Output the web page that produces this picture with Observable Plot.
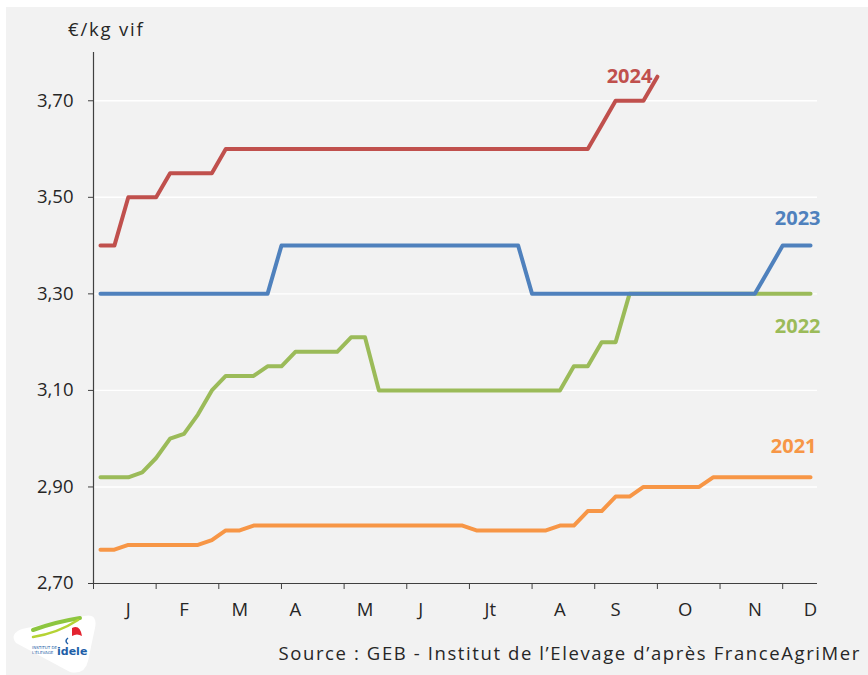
<!DOCTYPE html>
<html>
<head>
<meta charset="utf-8">
<script src="https://cdn.jsdelivr.net/npm/d3@7"></script>
<script src="https://cdn.jsdelivr.net/npm/@observablehq/plot@0.6"></script>
<style>
  html, body { margin: 0; padding: 0; background: #ffffff; }
  #wrap { position: relative; width: 868px; height: 675px; overflow: hidden; font-family: "Open Sans", sans-serif; color: #262626; }
  #bg { position: absolute; left: 6px; top: 7px; right: 0; bottom: 0; background: #f2f2f2; }
  #chart { position: absolute; left: 0; top: 0; }
  #unit { position: absolute; left: 68px; top: 17px; font-size: 18.5px; line-height: 24px; letter-spacing: 1.8px; }
  #source { position: absolute; right: 7px; top: 641px; font-size: 18.5px; line-height: 24px; white-space: nowrap; letter-spacing: 1.6px; }
  #logo { position: absolute; left: 0; top: 600px; }
</style>
</head>
<body>
<div id="wrap">
  <div id="bg"></div>
  <div id="chart"></div>
  <div id="unit">€/kg vif</div>
  <div id="source">Source : GEB - Institut de l’Elevage d’après FranceAgriMer</div>
  <svg id="logo" width="110" height="75" viewBox="0 600 110 75">
    <path d="M16,643 Q9,634 22,629 L84,616 Q98,613 95,628 L88,661 Q85,675 70,672 Z" fill="#ffffff"/>
    <path d="M33,630 Q55,622 80,618" stroke="#8dc63f" stroke-width="4" fill="none" stroke-linecap="round"/>
    <path d="M33,637 Q58,633 78,620" stroke="#b5d334" stroke-width="2.5" fill="none" stroke-linecap="round"/>
    <path d="M72,628 Q80,624 82,636 Q77,633 72,636 Z" fill="#e3232f"/>
    <path d="M68,638 Q64,641 68,644" stroke="#1f5fa8" stroke-width="1.5" fill="none"/>
    <text x="32" y="649" font-size="4" font-family="DejaVu Sans" fill="#1f5fa8">INSTITUT DE</text>
    <text x="32" y="654" font-size="4" font-family="DejaVu Sans" fill="#1f5fa8">L'ÉLEVAGE</text>
    <text x="57" y="655" font-size="11" font-weight="bold" font-family="DejaVu Sans" fill="#1f5fa8">idele</text>
  </svg>
</div>
<script>
// ---- data ----
const weeks = d3.range(1, 53);
const years = [2021, 2022, 2023, 2024];
const yearColors = ["#f79646", "#9bbb59", "#4f81bd", "#c0504d"];

const price2021 = [2.77, 2.77, 2.78, 2.78, 2.78, 2.78, 2.78, 2.78, 2.79, 2.81,
  2.81, 2.82, 2.82, 2.82, 2.82, 2.82, 2.82, 2.82, 2.82, 2.82,
  2.82, 2.82, 2.82, 2.82, 2.82, 2.82, 2.82, 2.81, 2.81, 2.81,
  2.81, 2.81, 2.81, 2.82, 2.82, 2.85, 2.85, 2.88, 2.88, 2.90,
  2.90, 2.90, 2.90, 2.90, 2.92, 2.92, 2.92, 2.92, 2.92, 2.92,
  2.92, 2.92];
const price2022 = [2.92, 2.92, 2.92, 2.93, 2.96, 3.00, 3.01, 3.05, 3.10, 3.13,
  3.13, 3.13, 3.15, 3.15, 3.18, 3.18, 3.18, 3.18, 3.21, 3.21,
  3.10, 3.10, 3.10, 3.10, 3.10, 3.10, 3.10, 3.10, 3.10, 3.10,
  3.10, 3.10, 3.10, 3.10, 3.15, 3.15, 3.20, 3.20, 3.30, 3.30,
  3.30, 3.30, 3.30, 3.30, 3.30, 3.30, 3.30, 3.30, 3.30, 3.30,
  3.30, 3.30];
const price2023 = [3.30, 3.30, 3.30, 3.30, 3.30, 3.30, 3.30, 3.30, 3.30, 3.30,
  3.30, 3.30, 3.30, 3.40, 3.40, 3.40, 3.40, 3.40, 3.40, 3.40,
  3.40, 3.40, 3.40, 3.40, 3.40, 3.40, 3.40, 3.40, 3.40, 3.40,
  3.40, 3.30, 3.30, 3.30, 3.30, 3.30, 3.30, 3.30, 3.30, 3.30,
  3.30, 3.30, 3.30, 3.30, 3.30, 3.30, 3.30, 3.30, 3.35, 3.40,
  3.40, 3.40];
const price2024 = [3.40, 3.40, 3.50, 3.50, 3.50, 3.55, 3.55, 3.55, 3.55, 3.60,
  3.60, 3.60, 3.60, 3.60, 3.60, 3.60, 3.60, 3.60, 3.60, 3.60,
  3.60, 3.60, 3.60, 3.60, 3.60, 3.60, 3.60, 3.60, 3.60, 3.60,
  3.60, 3.60, 3.60, 3.60, 3.60, 3.60, 3.65, 3.70, 3.70, 3.70,
  3.75];

const yTicks = [2.70, 2.90, 3.10, 3.30, 3.50, 3.70];
const gridTicks = [2.90, 3.10, 3.30, 3.50, 3.70];
const xTickWeeks = [0.5, 5, 9.5, 14, 18.5, 23, 27.5, 32, 36.5, 41, 45.5, 50];
const monthLabels = ["J", "F", "M", "A", "M", "J", "Jt", "A", "S", "O", "N", "D"];
const monthWeeks = [3, 7, 11, 15, 20, 24, 29, 34, 38, 43, 48, 52];

// ---- tables ----
const series = [price2021, price2022, price2023, price2024];
const rows = [];
series.forEach((arr, i) => arr.forEach((v, j) => rows.push({year: years[i], week: weeks[j], price: v})));
const last = years.map((y, i) => ({year: y, week: weeks[series[i].length - 1], price: series[i][series[i].length - 1]}));
const months = monthLabels.map((m, i) => ({label: m, week: monthWeeks[i]}));

const axisColor = "#404040";
const fmt = d => d.toFixed(2).replace(".", ",");
const lab = y => last.filter(d => d.year === y);

const chart = Plot.plot({
  width: 868,
  height: 675,
  marginTop: 52,
  marginBottom: 92,
  marginLeft: 93,
  marginRight: 51,
  style: {background: "transparent", fontFamily: "Open Sans, sans-serif", color: "#262626"},
  x: {domain: [0.5, 52.5], axis: null},
  y: {domain: [2.7, 3.8], axis: null},
  color: {domain: years, range: yearColors},
  marks: [
    Plot.ruleY(gridTicks, {stroke: "#ffffff", strokeWidth: 1.4}),
    Plot.axisY(yTicks, {tickSize: 5, tickPadding: 15, tickFormat: fmt, fontSize: 18.5, stroke: axisColor, fill: "#262626", label: null}),
    Plot.axisX(xTickWeeks, {tickSize: 6, tickFormat: () => "", stroke: axisColor, label: null}),
    Plot.ruleX([0.5], {y1: 2.7, y2: 3.8, stroke: axisColor, strokeWidth: 1.2}),
    Plot.ruleY([2.7], {stroke: axisColor, strokeWidth: 1.2}),
    Plot.text(months, {x: "week", y: () => 2.7, text: "label", dy: 27, fontSize: 18.5, fill: "#262626"}),
    Plot.line(rows, {x: "week", y: "price", z: "year", stroke: "year", strokeWidth: 4, strokeLinecap: "round", strokeLinejoin: "round"}),
    Plot.text(lab(2024), {x: "week", y: "price", text: d => String(d.year), fill: "year", textAnchor: "end", dx: -5, dy: 0, fontSize: 20, fontWeight: "bold"}),
    Plot.text(lab(2023), {x: "week", y: "price", text: d => String(d.year), fill: "year", textAnchor: "end", dx: 10, dy: -27, fontSize: 20, fontWeight: "bold"}),
    Plot.text(lab(2022), {x: "week", y: "price", text: d => String(d.year), fill: "year", textAnchor: "end", dx: 10, dy: 33, fontSize: 20, fontWeight: "bold"}),
    Plot.text(lab(2021), {x: "week", y: "price", text: d => String(d.year), fill: "year", textAnchor: "end", dx: 6, dy: -31, fontSize: 20, fontWeight: "bold"})
  ]
});
document.getElementById("chart").appendChild(chart);
</script>
</body>
</html>
